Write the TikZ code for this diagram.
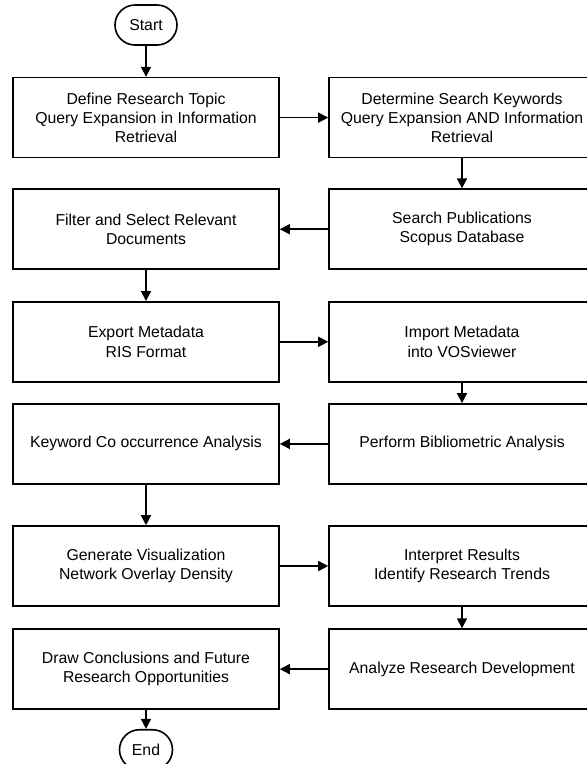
\documentclass[tikz,border=0pt]{standalone}
\usepackage{fontspec}
\setmainfont{Liberation Sans}
\usetikzlibrary{positioning,arrows.meta}

\begin{document}
\begin{tikzpicture}[x=1pt,y=1pt]
\path[use as bounding box] (0,0) rectangle (587,-764);

\tikzstyle{every node}+=[font=\fontsize{15.8}{19.2}\selectfont,align=center]
\tikzstyle{every path}+=[line width=1.6pt]
\tikzstyle{stepbox}=[draw,rectangle,minimum width=266pt,minimum height=80pt]
\tikzstyle{terminal}=[draw,rectangle,rounded corners=20pt,minimum width=62pt,minimum height=40pt]
\tikzstyle{arr}=[-{Triangle[length=10pt,width=10pt]}]

\node[terminal] (start) at (146,-25) {Start};

\node[stepbox,below=31pt of start] (topic) {Define Research Topic\\Query Expansion in Information\\Retrieval};
\node[stepbox,right=48.4pt of topic] (keywords) {Determine Search Keywords\\Query Expansion AND Information\\Retrieval};

\node[stepbox,below=30pt of topic] (filter) {Filter and Select Relevant\\Documents};
\node[stepbox,right=48.4pt of filter] (search) {Search Publications\\Scopus Database};

\node[stepbox,below=31pt of filter] (export) {Export Metadata\\RIS Format};
\node[stepbox,right=48.4pt of export] (import) {Import Metadata\\into VOSviewer};

\node[stepbox,below=20.5pt of export] (cooccur) {Keyword Co occurrence Analysis};
\node[stepbox,right=48.4pt of cooccur] (biblio) {Perform Bibliometric Analysis};

\node[stepbox,below=40.5pt of cooccur] (visual) {Generate Visualization\\Network Overlay Density};
\node[stepbox,right=48.4pt of visual] (interpret) {Interpret Results\\Identify Research Trends};

\node[stepbox,below=21.5pt of visual] (conclude) {Draw Conclusions and Future\\Research Opportunities};
\node[stepbox,right=48.4pt of conclude] (develop) {Analyze Research Development};

\node[terminal,minimum width=53pt,below=19pt of conclude] (end) {End};

\draw[arr] (start) edge (topic)
      (topic) edge (keywords)
      (keywords) edge (search)
      (search) edge (filter)
      (filter) edge (export)
      (export) edge (import)
      (import) edge (biblio)
      (biblio) edge (cooccur)
      (cooccur) edge (visual)
      (visual) edge (interpret)
      (interpret) edge (develop)
      (develop) edge (conclude)
      (conclude) edge (end);
\end{tikzpicture}
\end{document}
